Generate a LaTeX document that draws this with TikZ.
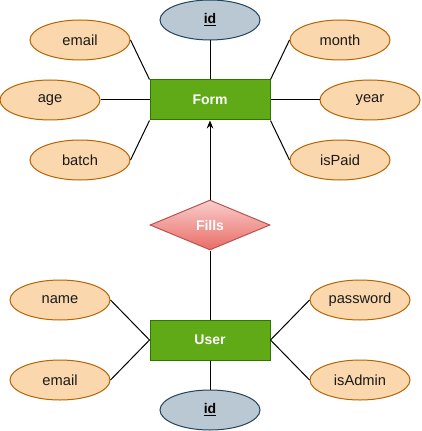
\documentclass[tikz,border=0pt]{standalone}
\usepackage{fontspec}
\setmainfont{Liberation Sans}
\usetikzlibrary{shapes.geometric,arrows.meta}
\definecolor{entfill}{HTML}{60A917}
\definecolor{entdraw}{HTML}{2D7600}
\definecolor{attfill}{HTML}{FAD7AC}
\definecolor{attdraw}{HTML}{B46504}
\definecolor{keyfill}{HTML}{BAC8D3}
\definecolor{keydraw}{HTML}{23445D}
\definecolor{reltop}{HTML}{F8CECC}
\definecolor{relbot}{HTML}{EA6B66}
\definecolor{reldraw}{HTML}{B85450}
\definecolor{txt}{HTML}{1A1A1A}
\begin{document}
\begin{tikzpicture}[x=0.75pt,y=-0.75pt,
  every node/.style={font=\fontsize{11pt}{13pt}\selectfont},
  entity/.style={rectangle,draw=entdraw,fill=entfill,line width=0.75pt,minimum width=90pt,minimum height=30pt,inner sep=0pt,text=white,font=\fontsize{10.5pt}{12pt}\selectfont\bfseries},
  attr/.style={ellipse,draw=attdraw,fill=attfill,line width=0.75pt,minimum width=75pt,minimum height=30pt,inner sep=0pt,text=txt},
  keyattr/.style={ellipse,draw=keydraw,fill=keyfill,line width=0.75pt,minimum width=75pt,minimum height=30pt,inner sep=0pt,text=black,font=\fontsize{10.5pt}{12pt}\selectfont\bfseries},
  rel/.style={diamond,draw=reldraw,top color=reltop,bottom color=relbot,line width=0.75pt,minimum width=90pt,minimum height=37.5pt,inner sep=0pt,text=white,font=\fontsize{10.5pt}{12pt}\selectfont\bfseries},
  conn/.style={line width=0.75pt,draw=black}]
\useasboundingbox (0,0) rectangle (421,431);
% Form
\node[entity] (form) at (210,100) {Form};
\node[keyattr] (fid) at (210,20) {\underline{id}};
\node[attr] (femail) at (80,40) {email};
\node[attr] (fage) at (50,100) {age};
\node[attr] (fbatch) at (80,160) {batch};
\node[attr] (fmonth) at (340,40) {month};
\node[attr] (fyear) at (370,100) {year};
\node[attr] (fpaid) at (340,160) {isPaid};
% relation
\node[rel] (fills) at (210,225) {Fills};
% User
\node[entity] (user) at (210,340) {User};
\node[keyattr] (uid) at (210,410) {\underline{id}};
\node[attr] (uname) at (60,300) {name};
\node[attr] (uemail) at (60,380) {email};
\node[attr] (upass) at (360,300) {password};
\node[attr] (uadmin) at (360,380) {isAdmin};
% connectors
\draw[conn] (fid) -- (form);
\draw[conn] (femail.east) -- (form.north west);
\draw[conn] (fage.east) -- (form.west);
\draw[conn] (fbatch.east) -- (form.south west);
\draw[conn] (fmonth.west) -- (form.north east);
\draw[conn] (fyear.west) -- (form.east);
\draw[conn] (fpaid.west) -- (form.south east);
\draw[conn,-{Stealth[length=6pt,width=5pt]}] (fills.north) -- (form.south);
\draw[conn] (fills.south) -- (user.north);
\draw[conn] (user.south) -- (uid.north);
\draw[conn] (uname.east) -- (user.west);
\draw[conn] (uemail.east) -- (user.west);
\draw[conn] (upass.west) -- (user.east);
\draw[conn] (uadmin.west) -- (user.east);
\end{tikzpicture}
\end{document}
